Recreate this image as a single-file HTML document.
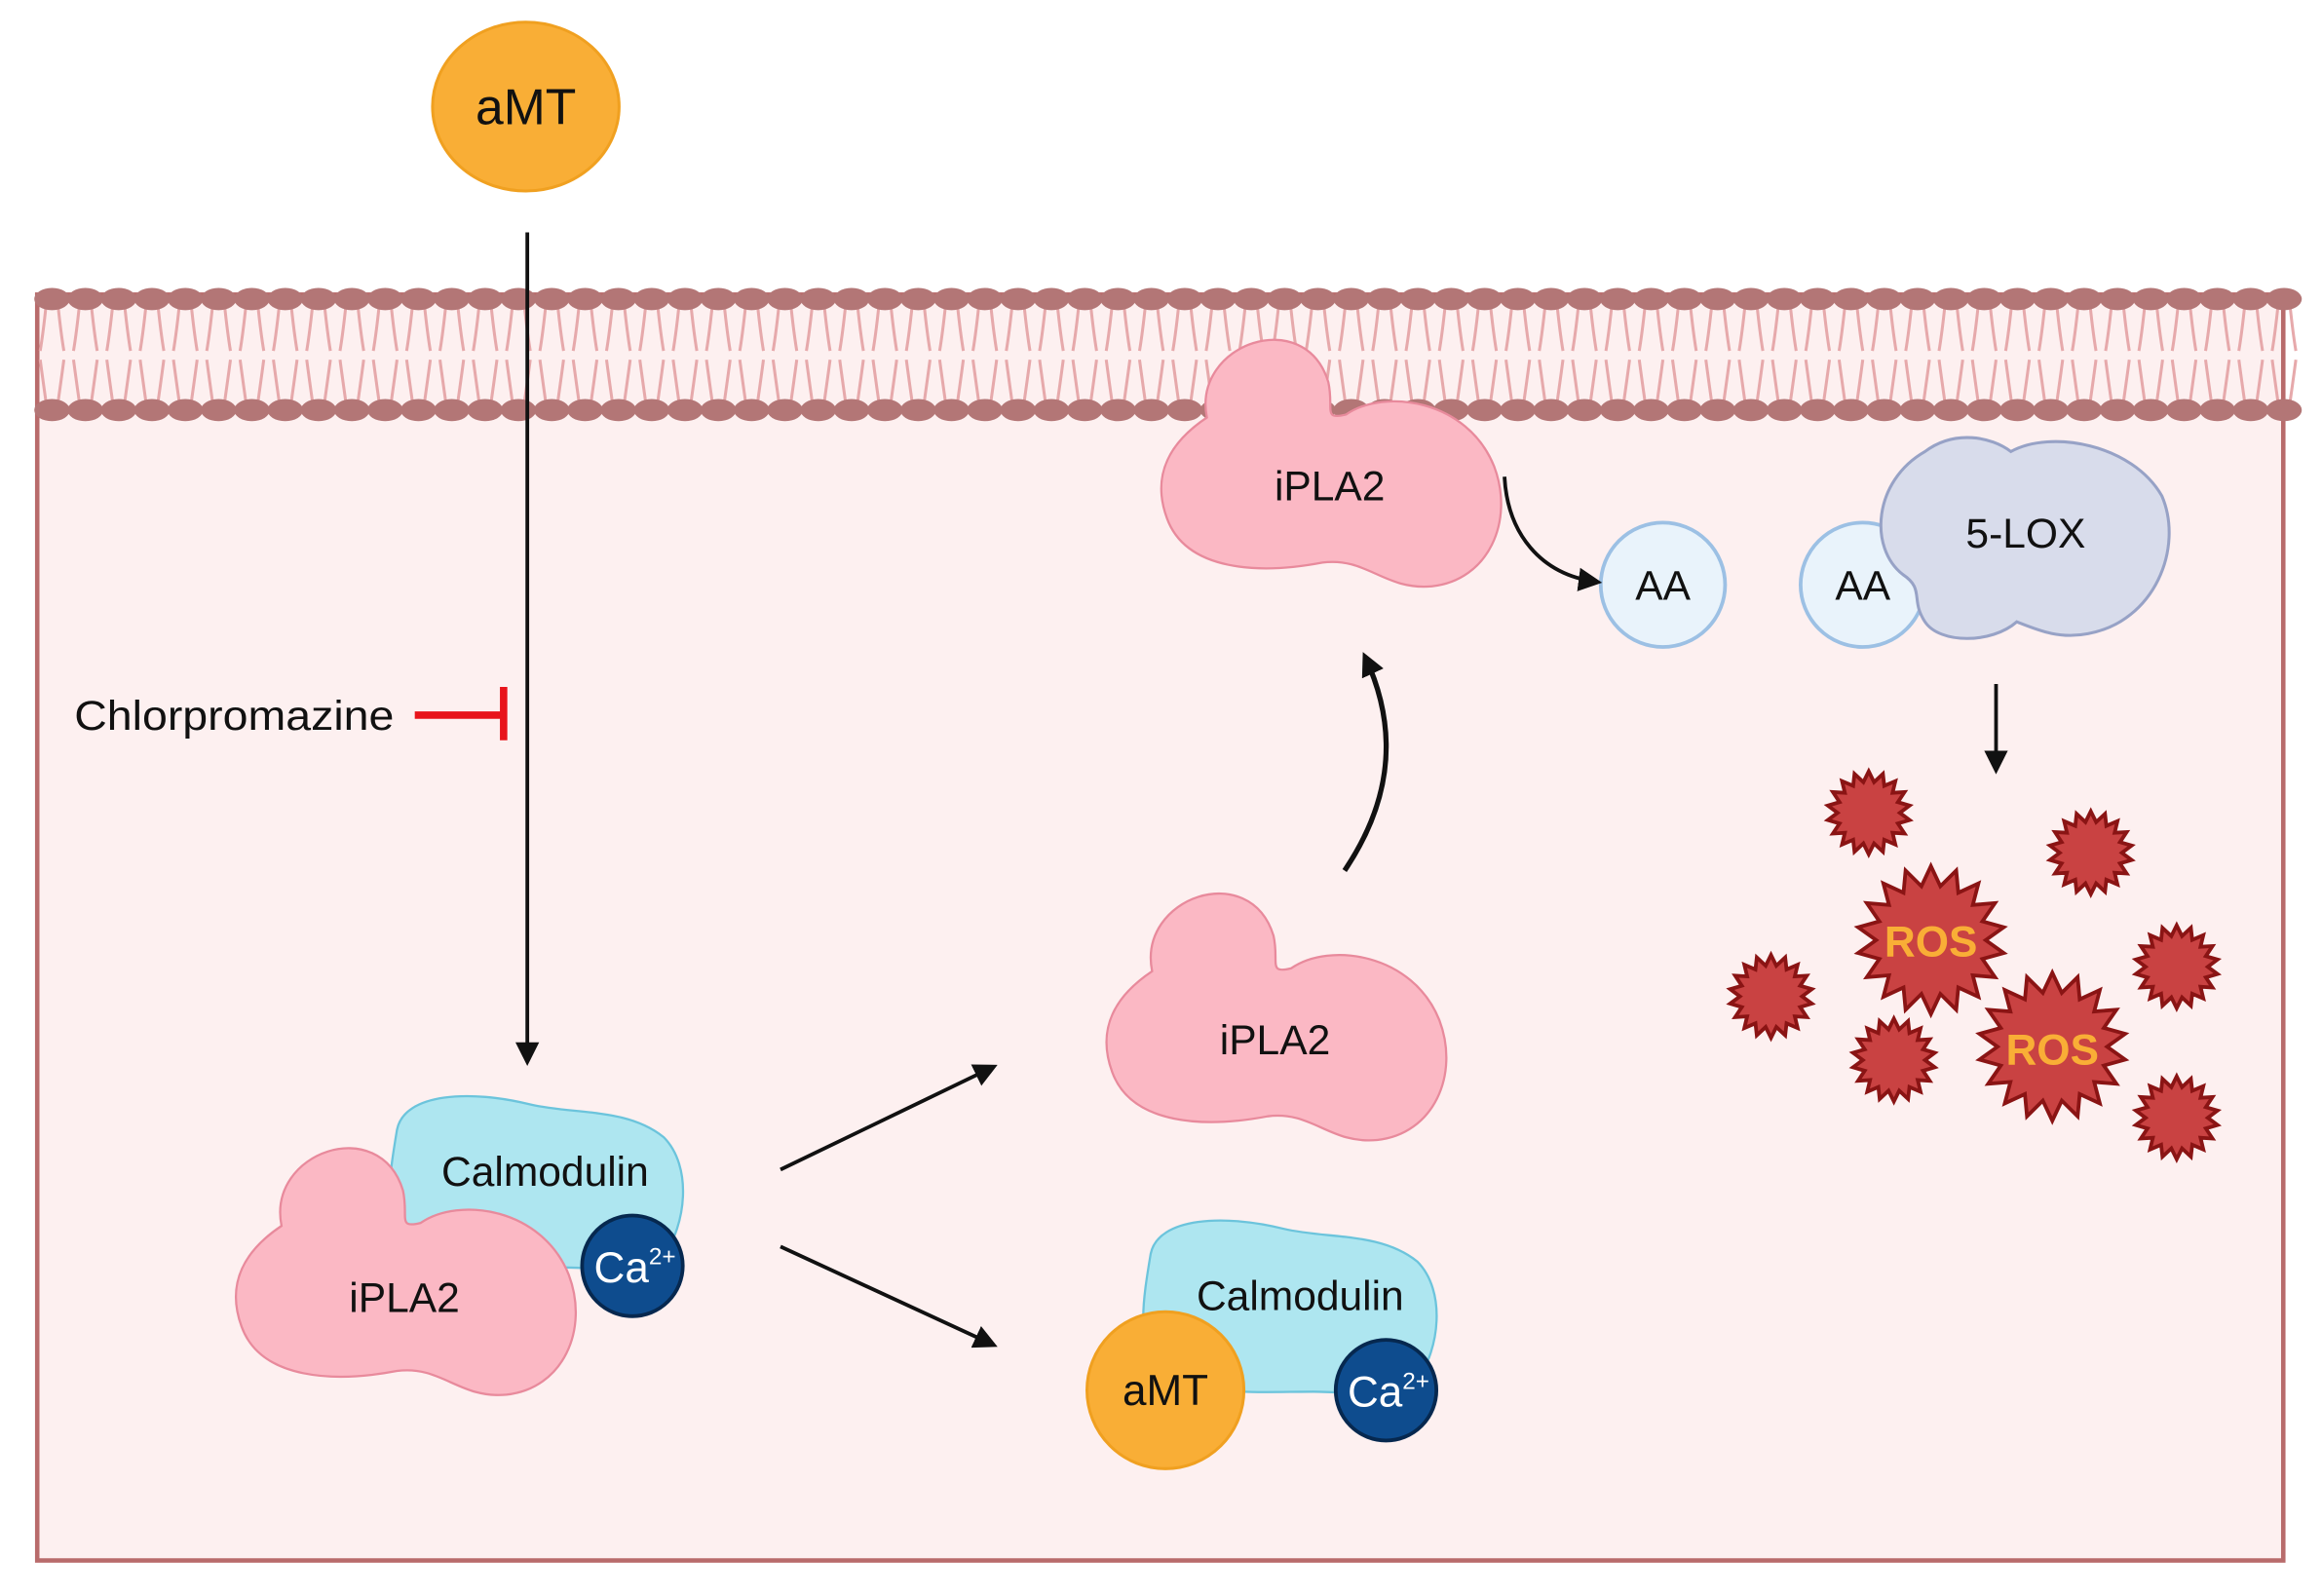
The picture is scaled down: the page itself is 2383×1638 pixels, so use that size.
<!DOCTYPE html>
<html><head><meta charset="utf-8"><style>
html,body{margin:0;padding:0;background:#fff;}
svg{display:block;font-family:"Liberation Sans",sans-serif;}
</style></head><body>
<svg id="s" width="2383" height="1638" viewBox="0 0 1568 1078" xmlns="http://www.w3.org/2000/svg">
<defs>
<marker id="ah2" markerWidth="16" markerHeight="16" refX="12" refY="8" orient="auto" markerUnits="userSpaceOnUse"><path d="M0,0 L16,8 L0,16 Z" fill="#111"/></marker>
<path id="pla" d="M32,62 C22,12 98,-14 114,38 C118,56 110,64 126,60 C152,42 208,50 226,95 C240,132 222,172 184,176 C152,179 140,156 110,160 C68,168 18,166 5,130 C-6,100 8,78 32,62 Z"/>
<path id="cal" d="M10,25 C15,0 60,-2 100,8 C130,15 165,10 190,30 C210,50 205,90 190,110 C175,125 150,118 120,118 C80,118 40,122 15,100 C0,85 5,55 10,25 Z"/>
</defs>
<rect x="25" y="199" width="1517" height="855" fill="#FDF0F0" stroke="#B86B6B" stroke-width="3"/>
<g id="mem"></g>
<ellipse cx="355" cy="72" rx="63" ry="57" fill="#F9AE36" stroke="#F0A020" stroke-width="2"/>
<text x="355" y="84" font-size="34" text-anchor="middle" fill="#111">aMT</text>
<line x1="356" y1="157" x2="356" y2="716" stroke="#111" stroke-width="2.5" marker-end="url(#ah2)"/>
<text x="50" y="493" font-size="28" fill="#111" textLength="216" lengthAdjust="spacingAndGlyphs">Chlorpromazine</text>
<line x1="280" y1="483" x2="340" y2="483" stroke="#E8141B" stroke-width="5"/>
<line x1="340" y1="464" x2="340" y2="500" stroke="#E8141B" stroke-width="5"/>
<use href="#pla" x="783" y="220" fill="#FBB8C4" stroke="#E88A9C" stroke-width="1.5"/>
<text x="898" y="338" font-size="28" text-anchor="middle" fill="#111">iPLA2</text>
<circle cx="1123" cy="395" r="42" fill="#E9F3FB" stroke="#9CC0E4" stroke-width="2.5"/>
<text x="1123" y="405" font-size="28" text-anchor="middle" fill="#111">AA</text>
<circle cx="1258" cy="395" r="42" fill="#E9F3FB" stroke="#9CC0E4" stroke-width="2.5"/>
<text x="1258" y="405" font-size="28" text-anchor="middle" fill="#111">AA</text>
<path d="M1300,305 C1320,290 1345,295 1358,305 C1385,290 1440,300 1460,335 C1475,370 1455,420 1410,428 C1390,432 1375,425 1362,420 C1345,435 1310,435 1300,420 C1290,405 1300,398 1285,388 C1262,370 1265,325 1300,305 Z" fill="#D8DCEB" stroke="#97A2C6" stroke-width="2"/>
<text x="1368" y="370" font-size="28" text-anchor="middle" fill="#111">5-LOX</text>
<path d="M1016,322 C1018,360 1040,388 1078,393" fill="none" stroke="#111" stroke-width="2.5" marker-end="url(#ah2)"/>
<line x1="1348" y1="462" x2="1348" y2="519" stroke="#111" stroke-width="2.5" marker-end="url(#ah2)"/>
<path d="M908,588 C935,548 948,500 922,444" fill="none" stroke="#111" stroke-width="3.5" marker-end="url(#ah2)"/>
<line x1="527" y1="790" x2="670" y2="721" stroke="#111" stroke-width="2.5" marker-end="url(#ah2)"/>
<line x1="527" y1="842" x2="670" y2="908" stroke="#111" stroke-width="2.5" marker-end="url(#ah2)"/>
<use href="#pla" x="746" y="594" fill="#FBB8C4" stroke="#E88A9C" stroke-width="1.5"/>
<text x="861" y="712" font-size="28" text-anchor="middle" fill="#111">iPLA2</text>
<use href="#cal" x="258" y="738" fill="#AEE6F0" stroke="#6CC4DC" stroke-width="1.5"/>
<text x="368" y="801" font-size="28" text-anchor="middle" fill="#111">Calmodulin</text>
<use href="#pla" x="158" y="766" fill="#FBB8C4" stroke="#E88A9C" stroke-width="1.5"/>
<text x="273" y="886" font-size="28" text-anchor="middle" fill="#111">iPLA2</text>
<circle cx="427" cy="855" r="34" fill="#0E4C8E" stroke="#06284F" stroke-width="2.5"/>
<text x="401" y="866" font-size="29" fill="#fff">Ca<tspan font-size="16" dy="-12">2+</tspan></text>
<use href="#cal" x="767" y="822" fill="#AEE6F0" stroke="#6CC4DC" stroke-width="1.5"/>
<text x="878" y="885" font-size="28" text-anchor="middle" fill="#111">Calmodulin</text>
<circle cx="787" cy="939" r="53" fill="#F9AE36" stroke="#F0A020" stroke-width="2"/>
<text x="787" y="949" font-size="29" text-anchor="middle" fill="#111">aMT</text>
<circle cx="936" cy="939" r="34" fill="#0E4C8E" stroke="#06284F" stroke-width="2.5"/>
<text x="910" y="950" font-size="29" fill="#fff">Ca<tspan font-size="16" dy="-12">2+</tspan></text>
<g id="stars"></g>
<text x="1304" y="646" font-size="29" font-weight="bold" text-anchor="middle" fill="#F9AE36">ROS</text>
<text x="1386" y="719" font-size="29" font-weight="bold" text-anchor="middle" fill="#F9AE36">ROS</text>
</svg>
<script>
var NS="http://www.w3.org/2000/svg";
function el(t,a,p){var e=document.createElementNS(NS,t);for(var k in a)e.setAttribute(k,a[k]);p.appendChild(e);return e;}
var mem=document.getElementById('mem');
for(var x=35;x<=1545;x+=22.5){
 el('path',{d:'M'+(x-4)+',206 Q'+(x-6)+',225 '+(x-8)+',237 M'+(x+4)+',206 Q'+(x+6)+',225 '+(x+8)+',237 M'+(x-8)+',243 Q'+(x-6)+',258 '+(x-4)+',272 M'+(x+8)+',243 Q'+(x+6)+',258 '+(x+4)+',272',fill:'none',stroke:'#E6A9AB','stroke-width':2},mem);
}
for(var x=35;x<=1545;x+=22.5){
 el('ellipse',{cx:x,cy:202,rx:12,ry:7.5,fill:'#B37676'},mem);
 el('ellipse',{cx:x,cy:277,rx:12,ry:7.5,fill:'#B37676'},mem);
}
var st=document.getElementById('stars');
function star(cx,cy,r,n,ri){var p=[];for(var i=0;i<2*n;i++){var a=Math.PI*i/n-Math.PI/2;var rr=i%2?ri:r;p.push((cx+rr*Math.cos(a)).toFixed(1)+','+(cy+rr*Math.sin(a)).toFixed(1));}
 el('polygon',{points:p.join(' '),fill:'#C94242',stroke:'#8A1414','stroke-width':2.5,'stroke-linejoin':'miter'},st);}
[[1262,549],[1412,576],[1196,673],[1470,653],[1279,716],[1470,755]].forEach(function(c){star(c[0],c[1],28,18,21);});
star(1304,635,50,18,37);star(1386,707,50,18,37);
</script>
</body></html>
